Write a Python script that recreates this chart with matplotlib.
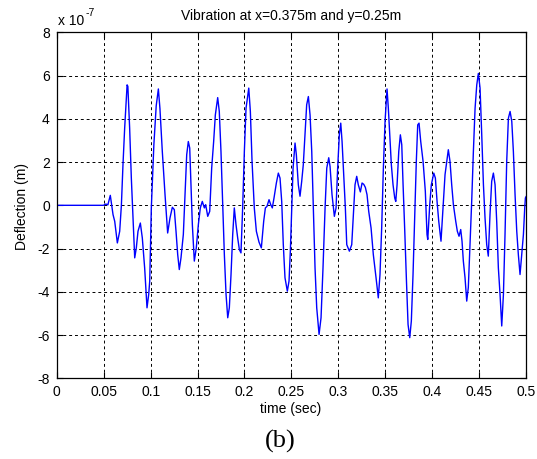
import matplotlib
matplotlib.use("Agg")
import matplotlib.pyplot as plt
import numpy as np

# Deflection history (time in s, deflection in 1e-7 m)
time_s = [
    0.0, 0.05, 0.0515, 0.053, 0.0545, 0.0571, 0.060, 0.0618, 0.0646, 0.0671,
    0.0689, 0.0706, 0.0724, 0.0750, 0.0758, 0.0777, 0.0795, 0.0813, 0.0831, 0.0848,
    0.0866, 0.0891, 0.0912, 0.0937, 0.0962, 0.0980, 0.0991, 0.1008, 0.1035, 0.1060,
    0.1083, 0.1100, 0.1125, 0.1154, 0.1182, 0.1207, 0.1232, 0.1253, 0.1271, 0.1289,
    0.1306, 0.1324, 0.1349, 0.1367, 0.1385, 0.1402, 0.1417, 0.1431, 0.1445, 0.1466,
    0.1487, 0.1509, 0.1530, 0.1551, 0.1573, 0.1587, 0.1609, 0.1630, 0.1651, 0.1672,
    0.1690, 0.1715, 0.1732, 0.1750, 0.1768, 0.1786, 0.1804, 0.1822, 0.1839, 0.1857,
    0.1875, 0.1892, 0.1910, 0.1928, 0.1946, 0.1963, 0.1981, 0.1999, 0.2017, 0.2046,
    0.2063, 0.2081, 0.2105, 0.2127, 0.2155, 0.2180, 0.2205, 0.2223, 0.2240, 0.2262,
    0.2280, 0.2297, 0.2315, 0.2340, 0.2361, 0.2379, 0.2397, 0.2414, 0.2432, 0.2457,
    0.2475, 0.2489, 0.2504, 0.2518, 0.2539, 0.2553, 0.2574, 0.2592, 0.2610, 0.2627,
    0.2645, 0.2663, 0.2681, 0.2699, 0.2717, 0.2734, 0.2752, 0.2770, 0.2795, 0.2816,
    0.2837, 0.2859, 0.2877, 0.2898, 0.2912, 0.2933, 0.2958, 0.2976, 0.2993, 0.3011,
    0.3026, 0.3040, 0.3058, 0.3075, 0.3090, 0.3118, 0.3143, 0.3160, 0.3178, 0.3196,
    0.3213, 0.3235, 0.3253, 0.3271, 0.3288, 0.3306, 0.3324, 0.3349, 0.3373, 0.3402,
    0.3426, 0.3444, 0.3462, 0.3480, 0.3498, 0.3519, 0.3533, 0.3548, 0.3565, 0.3583,
    0.3601, 0.3612, 0.3626, 0.3644, 0.3661, 0.3676, 0.3690, 0.3708, 0.3726, 0.3743,
    0.3761, 0.3778, 0.3796, 0.3814, 0.3831, 0.3846, 0.3860, 0.3878, 0.3903, 0.3927,
    0.3945, 0.3953, 0.3974, 0.3991, 0.4017, 0.4034, 0.4052, 0.4070, 0.4094, 0.4119,
    0.4137, 0.4172, 0.4190, 0.4208, 0.4226, 0.4251, 0.4268, 0.4286, 0.4304, 0.4318,
    0.4332, 0.4350, 0.4368, 0.4385, 0.4403, 0.4421, 0.4439, 0.4457, 0.4475, 0.4492,
    0.4510, 0.4528, 0.4546, 0.4563, 0.4581, 0.4598, 0.4616, 0.4634, 0.4652, 0.4670,
    0.4688, 0.4705, 0.4723, 0.4741, 0.4759, 0.4776, 0.4794, 0.4812, 0.4830, 0.4848,
    0.4865, 0.4883, 0.4901, 0.4918, 0.4936, 0.4954, 0.4972, 0.4986, 0.4993, 0.5,
]
deflection = [
    0.0, 0.0, 0.05, 0.05, 0.02, 0.46, -0.43, -0.74, -1.74, -1.2,
    0.0, 1.88, 3.57, 5.57, 5.5, 3.57, 1.26, -0.58, -2.43, -1.97,
    -1.2, -0.82, -1.51, -2.9, -4.74, -4.12, -3.5, -0.12, 2.8, 4.6,
    5.38, 4.46, 2.49, 0.49, -1.28, -0.58, -0.09, -0.2, -1.2, -2.28,
    -2.97, -2.43, -1.35, 0.49, 2.34, 2.95, 2.65, 0.95, -0.89, -2.58,
    -1.97, -0.89, -0.12, 0.18, -0.12, 0.03, -0.51, -0.28, 1.72, 2.95,
    4.18, 4.98, 4.34, 2.49, 0.18, -2.28, -4.12, -5.2, -4.74, -3.2,
    -1.35, -0.12, -0.89, -1.51, -2.05, -2.2, -0.12, 2.49, 4.49, 5.42,
    4.34, 2.03, -0.12, -1.2, -1.7, -1.97, -0.74, -0.12, -0.05, 0.26,
    0.03, -0.12, 0.34, 1.03, 1.49, 1.26, 0.18, -1.82, -3.35, -3.97,
    -3.5, -2.12, -0.12, 1.72, 2.88, 2.34, 0.95, 0.42, 1.11, 1.88,
    3.26, 4.65, 5.03, 4.18, 2.49, -0.12, -2.89, -4.74, -5.97, -5.2,
    -2.89, -0.12, 1.72, 2.2, 1.8, 0.49, -0.51, -0.12, 1.72, 3.26,
    3.8, 2.95, 1.42, -0.12, -1.82, -2.12, -1.82, -0.43, 0.95, 1.34,
    0.95, 0.62, 1.03, 0.97, 0.83, 0.49, -0.28, -1.05, -2.28, -3.35,
    -4.28, -3.2, -1.05, 1.72, 3.88, 5.38, 4.49, 3.26, 1.88, 0.95,
    0.34, 0.18, 0.95, 2.49, 3.26, 2.8, 0.95, -1.2, -3.5, -5.51,
    -6.12, -5.35, -3.2, -0.58, 2.03, 3.72, 3.8, 2.95, 2.03, 0.65,
    -1.35, -1.58, 0.03, 0.95, 1.49, 1.26, 0.18, -0.74, -1.66, 0.18,
    1.42, 2.57, 2.03, 0.95, 0.03, -0.74, -1.2, -1.43, -1.12, -1.66,
    -2.58, -3.35, -4.43, -3.8, -1.82, 0.18, 2.49, 4.49, 5.57, 6.1,
    5.42, 3.26, 0.95, -0.58, -1.82, -2.35, -0.43, 1.11, 1.49, 0.95,
    -0.8, -2.89, -4.12, -5.58, -4.12, -1.35, 2.03, 4.03, 4.34, 3.88,
    2.49, 0.49, -1.2, -2.28, -3.2, -2.28, -1.35, -0.12, 0.34, 0.4,
]

x_ticks = [0, 0.05, 0.1, 0.15, 0.2, 0.25, 0.3, 0.35, 0.4, 0.45, 0.5]
x_tick_labels = ['0', '0.05', '0.1', '0.15', '0.2', '0.25', '0.3', '0.35', '0.4', '0.45', '0.5']
y_ticks = [-8, -6, -4, -2, 0, 2, 4, 6, 8]

plt.rcParams['font.family'] = ['Liberation Sans', 'DejaVu Sans']
plt.rcParams['axes.unicode_minus'] = False

fig = plt.figure(figsize=(5.37, 4.59), dpi=100)
ax = fig.add_axes([0.1056, 0.1758, 0.8740, 0.7538])

ax.plot(time_s, deflection, color=(0, 0, 1), linewidth=1.0)

ax.set_xlim(0, 0.5)
ax.set_ylim(-8, 8)
ax.set_xticks(x_ticks)
ax.set_xticklabels(x_tick_labels)
ax.set_yticks(y_ticks)
ax.tick_params(direction='in', length=4, width=0.8, labelsize=10,
               top=True, right=True, pad=5)
ax.grid(True, color='black', linestyle=(0, (3, 3)), linewidth=0.7)
for sp in ax.spines.values():
    sp.set_linewidth(0.9)

ax.set_title('Vibration at x=0.375m and y=0.25m', fontsize=10, pad=9)
fig.text(22 / 537, 1 - 207 / 459, 'Deflection (m)', rotation=90,
         ha='center', va='center', fontsize=10)
fig.text(291 / 537, 1 - 409 / 459, 'time (sec)', ha='center', va='center',
         fontsize=10)
# scale factor in MATLAB style (plain hyphen exponent)
fig.text(58 / 537, 1 - 21 / 459, 'x 10', ha='left', va='center', fontsize=10)
fig.text(86 / 537, 1 - 13 / 459, '-7', ha='left', va='center', fontsize=7.5)
fig.text(280 / 537, 1 - 441 / 459, '(b)', ha='center', va='center',
         fontsize=19, family=['Liberation Serif', 'DejaVu Serif'])

fig.savefig('out.png', dpi=100)
